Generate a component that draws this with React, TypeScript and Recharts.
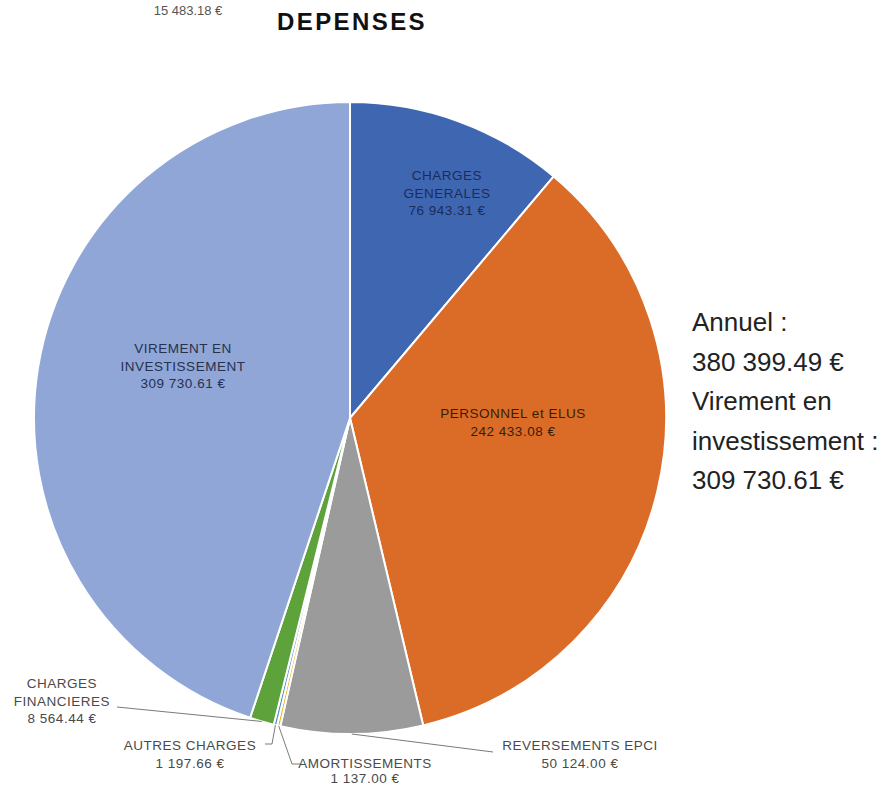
import React from "react";
import { PieChart, Pie, Cell } from "recharts";

// clockwise from the top
const categories = [
  "CHARGES GENERALES",
  "PERSONNEL et ELUS",
  "REVERSEMENTS EPCI",
  "AMORTISSEMENTS",
  "AUTRES CHARGES",
  "CHARGES FINANCIERES",
  "VIREMENT EN INVESTISSEMENT",
];
const amounts = [76943.31, 242433.08, 50124.0, 1137.0, 1197.66, 8564.44, 309730.61];
const amountLabels = [
  "76 943.31 €",
  "242 433.08 €",
  "50 124.00 €",
  "1 137.00 €",
  "1 197.66 €",
  "8 564.44 €",
  "309 730.61 €",
];
const sliceColors = ["#3f66b1", "#db6c28", "#9b9b9b", "#ecb01e", "#4e8fcd", "#5da23b", "#8fa6d7"];

const summaryLines = ["Annuel  :", "380 399.49 €", "Virement en", "investissement :", "309 730.61 €"];

const data = categories.map((name, i) => ({ name, value: amounts[i] }));

const FONT = "'Liberation Sans', Arial, sans-serif";
const RAD = Math.PI / 180;

// label placement relative to the pie centre (px)
type Layout = {
  lines: string[];
  x: number;
  y: number; // baseline of first line
  gap: number;
  color: string;
  leader?: [number, number][]; // points, the slice edge point is appended
};

const layouts: Layout[] = [
  { lines: ["CHARGES", "GENERALES"], x: 97, y: -238, gap: 17.5, color: "#1c2c5a" },
  { lines: ["PERSONNEL et ELUS"], x: 163, y: 0, gap: 17.5, color: "#3a1c06" },
  { lines: ["REVERSEMENTS EPCI"], x: 230, y: 332, gap: 17.5, color: "#4a4a4a", leader: [[143, 334]] },
  { lines: ["AMORTISSEMENTS"], x: 15, y: 350, gap: 15, color: "#4a4a4a", leader: [[-50, 346], [-58, 346]] },
  { lines: ["AUTRES CHARGES"], x: -160, y: 332, gap: 17.5, color: "#4a4a4a", leader: [[-85, 326], [-78, 326]] },
  { lines: ["CHARGES", "FINANCIERES"], x: -288, y: 270, gap: 17.5, color: "#4a4a4a", leader: [[-233, 289]] },
  { lines: ["VIREMENT EN", "INVESTISSEMENT"], x: -167, y: -65, gap: 17.5, color: "#26314f" },
];

const renderLabel = (props: any) => {
  const { cx, cy, midAngle, outerRadius, index } = props;
  const lay = layouts[index];
  const lines = [...lay.lines, amountLabels[index]];
  const ex = cx + outerRadius * Math.cos(-midAngle * RAD);
  const ey = cy + outerRadius * Math.sin(-midAngle * RAD);
  let path = "";
  if (lay.leader) {
    const pts = lay.leader.map(([dx, dy]) => [cx + dx, cy + dy]);
    pts.push([ex, ey]);
    path = "M" + pts.map((p) => p.join(",")).join(" L");
  }
  return (
    <g key={`lbl-${index}`}>
      {path && <path d={path} stroke="#7a7a7a" strokeWidth={1} fill="none" />}
      <text
        x={cx + lay.x}
        y={cy + lay.y}
        textAnchor="middle"
        fill={lay.color}
        fontFamily={FONT}
        fontSize={13.5}
        letterSpacing={0.5}
      >
        {lines.map((l, i) => (
          <tspan key={i} x={cx + lay.x} dy={i === 0 ? 0 : lay.gap}>
            {l}
          </tspan>
        ))}
      </text>
    </g>
  );
};

export default function App() {
  return (
    <div style={{ position: "absolute", left: 0, top: 0, width: 887, height: 785, background: "#fff" }}>
      <PieChart width={887} height={785} margin={{ top: 0, right: 0, bottom: 0, left: 0 }}>
        <Pie
          data={data}
          dataKey="value"
          nameKey="name"
          cx={350}
          cy={418}
          outerRadius={316}
          startAngle={90}
          endAngle={-270}
          stroke="#ffffff"
          strokeWidth={2}
          label={renderLabel}
          labelLine={false}
          isAnimationActive={false}
        >
          {data.map((d, i) => (
            <Cell key={`cell-${i}`} fill={sliceColors[i]} />
          ))}
        </Pie>
      </PieChart>
      <svg
        width={887}
        height={785}
        style={{ position: "absolute", left: 0, top: 0, pointerEvents: "none" }}
      >
        <text
          x={352}
          y={30}
          textAnchor="middle"
          fontFamily={FONT}
          fontWeight="bold"
          fontSize={24}
          letterSpacing={2.4}
          fill="#111"
        >
          DEPENSES
        </text>
        <text x={188} y={15} textAnchor="middle" fontFamily={FONT} fontSize={13} fill="#555">
          15 483.18 €
        </text>
        {summaryLines.map((l, i) => (
          <text key={i} x={692} y={331 + i * 39.5} fontFamily={FONT} fontSize={26} fill="#222">
            {l}
          </text>
        ))}
      </svg>
    </div>
  );
}
